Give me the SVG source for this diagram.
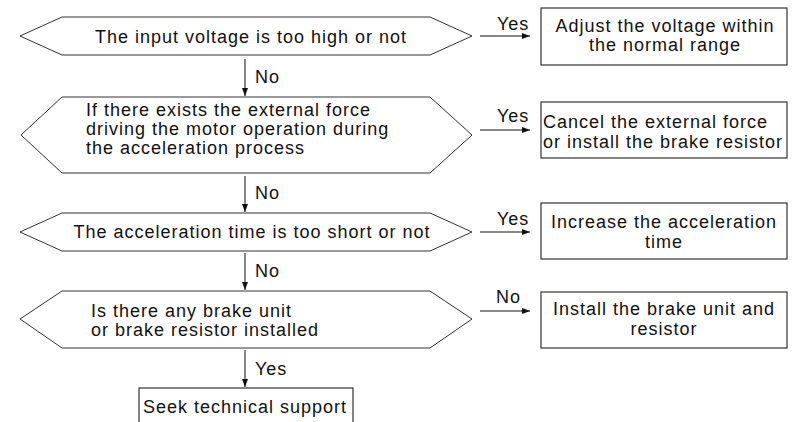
<svg xmlns="http://www.w3.org/2000/svg" width="795" height="422" viewBox="0 0 795 422">
<defs>
<marker id="ah" markerWidth="8" markerHeight="6" refX="8" refY="3" orient="auto" markerUnits="userSpaceOnUse">
<path d="M0,0 L8,3 L0,6 Z" fill="#111"/>
</marker>
</defs>
<style>
.hex{fill:#fff;stroke:#333;stroke-width:1}
.box{fill:#fff;stroke:#333;stroke-width:1.2}
text{font-family:"Liberation Sans",Arial,sans-serif;font-size:18px;fill:#111;letter-spacing:1px}
.c{text-anchor:middle}
.ln{stroke:#111;stroke-width:1;fill:none;marker-end:url(#ah)}
</style>
<rect width="795" height="422" fill="#fff"/>
<g id="d1">
<polygon class="hex" points="20,36 62,17 430,17 472,36 430,55 62,55"/>
<text class="c" x="251" y="43">The input voltage is too high or not</text>
</g>
<g id="d2">
<polygon class="hex" points="21,135 62,97 430,97 472,135 430,173 62,173"/>
<text x="86" y="116">If there exists the external force</text>
<text x="86" y="135">driving the motor operation during</text>
<text x="86" y="154">the acceleration process</text>
</g>
<g id="d3">
<polygon class="hex" points="20,232 62,213 430,213 472,232 430,251 62,251"/>
<text class="c" x="252" y="238">The acceleration time is too short or not</text>
</g>
<g id="d4">
<polygon class="hex" points="20,319 62,291 430,291 472,319 430,348 62,348"/>
<text x="91" y="317">Is there any brake unit</text>
<text x="91" y="336">or brake resistor installed</text>
</g>
<g id="b1">
<rect class="box" x="541" y="8" width="246" height="57"/>
<text class="c" x="665" y="32">Adjust the voltage within</text>
<text class="c" x="665" y="51">the normal range</text>
</g>
<g id="b2">
<rect class="box" x="541" y="102" width="246" height="56"/>
<text x="543" y="128">Cancel the external force</text>
<text x="543" y="148">or install the brake resistor</text>
</g>
<g id="b3">
<rect class="box" x="541" y="203" width="246" height="56"/>
<text class="c" x="664" y="228">Increase the acceleration</text>
<text class="c" x="664" y="248">time</text>
</g>
<g id="b4">
<rect class="box" x="541" y="292" width="246" height="56"/>
<text class="c" x="664" y="315">Install the brake unit and</text>
<text class="c" x="664" y="335">resistor</text>
</g>
<g id="b5">
<rect class="box" x="139" y="388" width="214" height="40"/>
<text x="143" y="413">Seek technical support</text>
</g>
<g id="connectors">
<line class="ln" x1="245" y1="59" x2="245" y2="96"/>
<line class="ln" x1="245" y1="176" x2="245" y2="212"/>
<line class="ln" x1="245" y1="253" x2="245" y2="290"/>
<line class="ln" x1="245" y1="350" x2="245" y2="387"/>
<line class="ln" x1="480" y1="36" x2="530" y2="36"/>
<line class="ln" x1="480" y1="130" x2="530" y2="130"/>
<line class="ln" x1="480" y1="232" x2="530" y2="232"/>
<line class="ln" x1="480" y1="311" x2="530" y2="311"/>
<text x="255" y="83">No</text>
<text x="255" y="199">No</text>
<text x="255" y="277">No</text>
<text x="255" y="375">Yes</text>
<text x="497" y="30">Yes</text>
<text x="497" y="122">Yes</text>
<text x="497" y="225">Yes</text>
<text x="496" y="303">No</text>
</g>
</svg>
